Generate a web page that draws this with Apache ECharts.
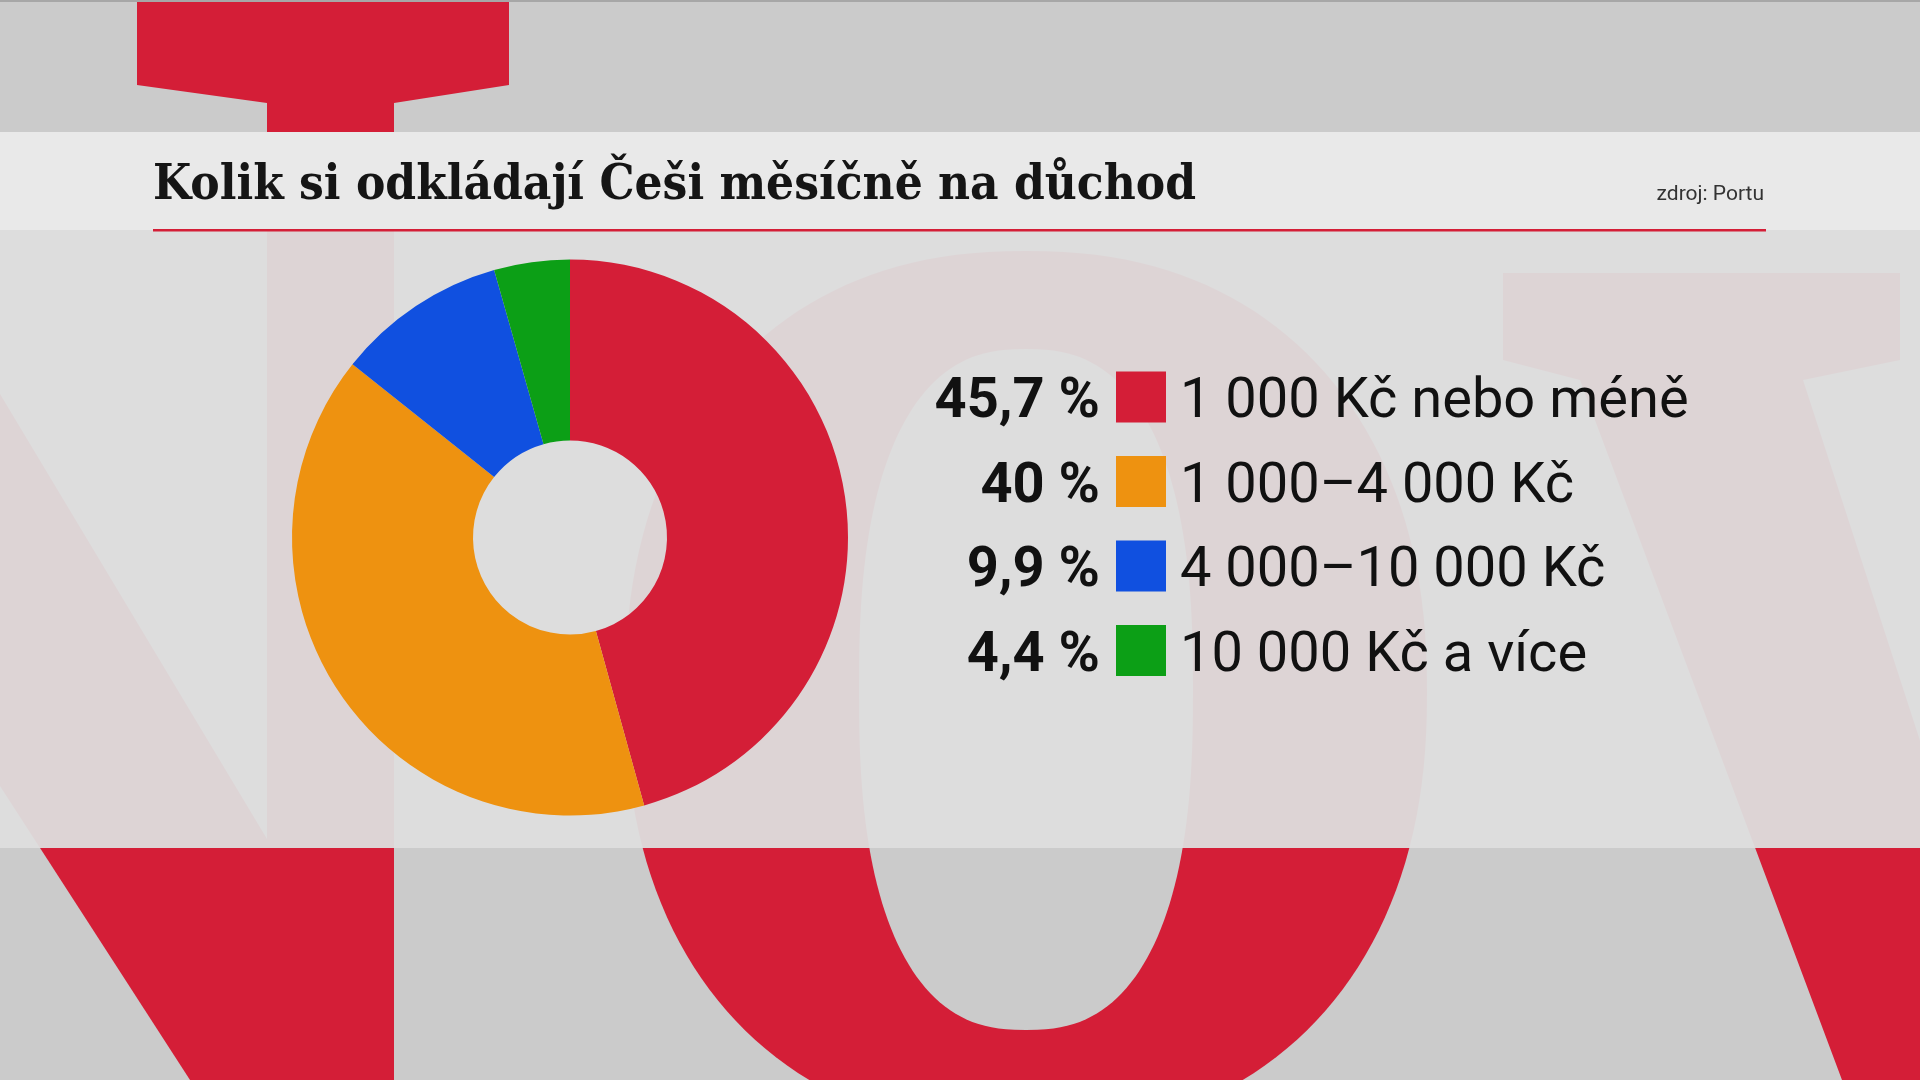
<!DOCTYPE html>
<html>
<head>
<meta charset="utf-8">
<title>Kolik si odkládají Češi měsíčně na důchod</title>
<script src="https://cdn.jsdelivr.net/npm/echarts@6/dist/echarts.min.js"></script>
<style>
  html, body { margin: 0; padding: 0; background: #cbcbcb; }
  #chart { width: 1920px; height: 1080px; }
</style>
</head>
<body>
<div id="chart"></div>
<script>
// data
const categories = ['1 000 Kč nebo méně', '1 000–4 000 Kč', '4 000–10 000 Kč', '10 000 Kč a více']
const shares = [45.7, 40, 9.9, 4.4]
const colors = ['#d41e37', '#ee9210', '#1050e0', '#0c9f16']

const titleText = 'Kolik si odkládají Češi měsíčně na důchod'
const sourceText = 'zdroj: Portu'

const RED = '#d41e37'
const BG = '#cbcbcb'

// superellipse outline for the big background "O"
function blob(cx, cy, a, b, n) {
  const pts = []
  for (let i = 0; i < 180; i++) {
    const t = (i / 180) * Math.PI * 2
    const c = Math.cos(t), s = Math.sin(t)
    pts.push([
      cx + a * Math.sign(c) * Math.pow(Math.abs(c), 2 / n),
      cy + b * Math.sign(s) * Math.pow(Math.abs(s), 2 / n)
    ])
  }
  return pts
}

const fmtPct = v => String(v).replace('.', ',') + ' %'

const chart = echarts.init(document.getElementById('chart'))

const backdrop = [
  // N: right stem with flared top
  { type: 'polygon', z: 0, shape: { points: [[137, 0], [509, 0], [509, 85], [394, 103], [394, 1080], [267, 1080], [267, 103], [137, 85]] }, style: { fill: RED } },
  // N: diagonal
  { type: 'polygon', z: 0, shape: { points: [[0, 394], [267, 839], [267, 1080], [190, 1080], [0, 786]] }, style: { fill: RED } },
  // O
  { type: 'polygon', z: 0, shape: { points: blob(1026, 692, 401, 441, 2.25) }, style: { fill: RED } },
  { type: 'polygon', z: 0, z2: 1, shape: { points: blob(1026, 689.5, 167, 340.5, 2.5) }, style: { fill: BG } },
  // V: left arm with flared top
  { type: 'polygon', z: 0, shape: { points: [[1503, 273], [1900, 273], [1900, 360], [1803, 380], [2030, 1080], [1842, 1080], [1580, 380], [1503, 360]] }, style: { fill: RED } },
  // translucent panel
  { type: 'rect', z: 1, shape: { x: 0, y: 132, width: 1920, height: 716 }, style: { fill: 'rgba(221,221,221,0.953)' } },
  // title bar
  { type: 'rect', z: 1, z2: 1, shape: { x: 0, y: 132, width: 1920, height: 98 }, style: { fill: '#e9e9e9' } },
  { type: 'rect', z: 1, z2: 2, shape: { x: 153, y: 229, width: 1613, height: 2.5 }, style: { fill: RED } },
  { type: 'rect', z: 5, shape: { x: 0, y: 0, width: 1920, height: 2 }, style: { fill: '#a7a7a7' } },
  {
    type: 'text', z: 3, style: {
      text: titleText, x: 153, y: 186, fill: '#151515',
      font: 'bold 49px "DejaVu Serif Condensed"', align: 'left', verticalAlign: 'middle'
    }
  },
  {
    type: 'text', z: 3, style: {
      text: sourceText, x: 1764, y: 195, fill: '#333333',
      font: '21px Roboto', align: 'right', verticalAlign: 'middle'
    }
  }
]

// legend rows: percentage, colour square, category
const legendItems = []
categories.forEach((name, i) => {
  const cy = 397 + i * 84.5
  legendItems.push(
    { type: 'text', z: 3, style: { text: fmtPct(shares[i]), x: 1100, y: cy + 6, fill: '#111111', font: 'bold 56px Roboto', align: 'right', verticalAlign: 'middle' } },
    { type: 'rect', z: 3, shape: { x: 1116, y: cy - 25.5, width: 50, height: 51 }, style: { fill: colors[i] } },
    { type: 'text', z: 3, style: { text: name, x: 1180, y: cy + 6, fill: '#111111', font: '56px Roboto', align: 'left', verticalAlign: 'middle' } }
  )
})

chart.setOption({
  backgroundColor: BG,
  animation: false,
  graphic: { elements: backdrop.concat(legendItems) },
  series: [{
    type: 'pie',
    z: 2,
    center: [570, 537.5],
    radius: [97, 278],
    startAngle: 90,
    clockwise: true,
    silent: true,
    label: { show: false },
    labelLine: { show: false },
    itemStyle: { borderWidth: 0 },
    emphasis: { disabled: true },
    data: categories.map((name, i) => ({ name, value: shares[i], itemStyle: { color: colors[i] } }))
  }]
})
</script>
</body>
</html>
